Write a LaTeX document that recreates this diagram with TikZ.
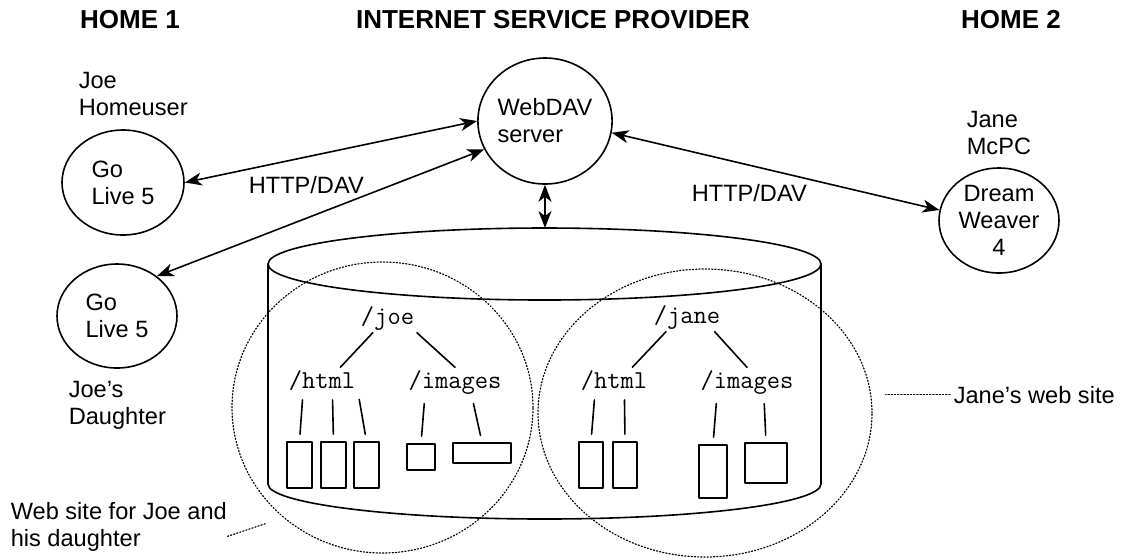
\documentclass[tikz,border=0pt]{standalone}
\usepackage{fontspec}
\setmainfont{Liberation Sans}
\usetikzlibrary{shapes.geometric,arrows.meta}
\begin{document}
\begin{tikzpicture}[x=0.5pt,y=-0.5pt,line join=round,line cap=round,line width=0.8pt,
		font=\fontsize{11.8}{13.5}\selectfont,>={Stealth[length=8.5pt,width=6.5pt,inset=2.5pt]},
		hdr/.style={font=\fontsize{13}{15}\selectfont\bfseries,anchor=base},
		appnode/.style={draw,ellipse,inner sep=0pt,align=left},
		lbl/.style={anchor=north west,inner sep=0pt,align=left},
		dirname/.style={font=\fontsize{12.9}{14}\selectfont\ttfamily,inner sep=1pt,anchor=base},
		fbox/.style={draw,inner sep=0pt},
		siteoval/.style={draw,densely dotted,ellipse,inner sep=0pt,line width=0.6pt},
		leader/.style={densely dotted,line width=0.6pt},
		tline/.style={shorten <=3.5pt,shorten >=3.5pt}]
	\useasboundingbox (0,0) rectangle (1123,559);
	\node[hdr] (home1) at (130,28) {HOME 1};
	\node[hdr] (isp) at (553,28) {INTERNET SERVICE PROVIDER};
	\node[hdr] (home2) at (1011,28) {HOME 2};
	
	\node[appnode,minimum width=61pt,minimum height=52.5pt] (golive1) at (123,182.5) {Go\\Live 5};
	\node[appnode,minimum width=60pt,minimum height=52pt] (golive2) at (117,316) {Go\\Live 5};
	\node[appnode,minimum width=67pt,minimum height=63pt] (webdav) at (545,121) {WebDAV\\server};
	\node[appnode,align=center,minimum width=60pt,minimum height=52.5pt] (dweaver) at (999,220.5) {Dream\\Weaver\\4};
	
	\node[lbl] (joeuser) at (78,71.5) {Joe\\Homeuser};
	\node[lbl] (joedtr) at (68,380.5) {Joe’s\\Daughter};
	\node[lbl] (janepc) at (966,110.5) {Jane\\McPC};
	\node[anchor=base west,inner sep=0pt] (http1) at (248,193) {HTTP/DAV};
	\node[anchor=base west,inner sep=0pt] (http2) at (691,201.7) {HTTP/DAV};
	
	\draw[<->] (golive1.east) -- (webdav.west);
	\draw[<->] (golive2.45) -- (webdav.205);
	\draw[<->] (webdav.-10) -- (dweaver.170);
	\coordinate (disktop) at (545,228);
	\draw[<->] (webdav.south) -- (disktop);
	
	\draw (544.5,264) ellipse [x radius=276.5,y radius=36];
	\draw (268,264) -- (268,484) arc [start angle=180,end angle=0,x radius=276.5,y radius=35] -- (821,264);
	
	\node[dirname] (joedir) at (387.5,324) {/joe};
	\node[dirname] (joehtml) at (322,388) {/html};
	\node[dirname] (joeimg) at (455,388) {/images};
	\node[fbox,minimum width=12.5pt,minimum height=23pt] (jf1) at (299.5,465) {};
	\node[fbox,minimum width=12.5pt,minimum height=23pt] (jf2) at (333.5,465) {};
	\node[fbox,minimum width=12.5pt,minimum height=23pt] (jf3) at (366.5,465) {};
	\node[fbox,minimum width=14pt,minimum height=13pt] (jg1) at (421,457) {};
	\node[fbox,minimum width=29pt,minimum height=10pt] (jg2) at (482,453) {};
	\draw (joedir.225) -- (joehtml.35);
	\draw (joedir.south east) -- (joeimg.north);
	\draw[tline] (joehtml.214) -- (jf1.north);
	\draw[tline] (joehtml.309) -- (jf2.north);
	\draw[tline] (joehtml.341) -- (jf3.north);
	\draw[tline] (joeimg.206) -- (jg1.north);
	\draw[tline] (joeimg.319) -- (jg2.north);
	
	\node[dirname] (janedir) at (687,323) {/jane};
	\node[dirname] (janehtml) at (614,388) {/html};
	\node[dirname] (janeimg) at (747,388) {/images};
	\node[fbox,minimum width=12pt,minimum height=23pt] (kf1) at (591,465) {};
	\node[fbox,minimum width=12pt,minimum height=23pt] (kf2) at (625,465) {};
	\node[fbox,minimum width=14pt,minimum height=26.5pt] (kg1) at (713,471.5) {};
	\node[fbox,minimum width=21pt,minimum height=20pt] (kg2) at (766,463) {};
	\draw (janedir.215) -- (janehtml.35);
	\draw (janedir.332) -- (janeimg.north);
	\draw[tline] (janehtml.214) -- (kf1.north);
	\draw[tline] (janehtml.309) -- (kf2.north);
	\draw[tline] (janeimg.206) -- (kg1.north);
	\draw[tline] (janeimg.319) -- (kg2.north);
	
	\node[siteoval,minimum width=150.5pt,minimum height=145.5pt] (joeoval) at (382.5,407.5) {};
	\node[siteoval,minimum width=167pt,minimum height=144pt] (janeoval) at (705,413) {};
	\node[lbl] (joesitelbl) at (10,501.5) {Web site for Joe and\\his daughter};
	\node[anchor=base west,inner sep=0pt] (janesitelbl) at (953,403) {Jane’s web site};
	\draw[leader,shorten <=1.5pt,shorten >=6.5pt] (janesitelbl.west) -- (janesitelbl.west -| janeoval.east);
	\draw[leader,shorten >=9pt] (joesitelbl.-5) -- (joeoval.228);
\end{tikzpicture}
\end{document}
